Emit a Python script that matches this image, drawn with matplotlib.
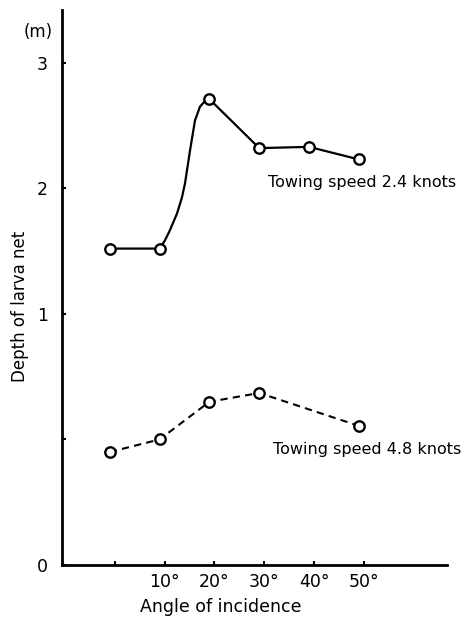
import numpy as np
import matplotlib
matplotlib.use("Agg")
import matplotlib.pyplot as plt

# angles of incidence (deg) and net depth (m)
angles = [0, 10, 20, 30, 40, 50]
depth_24 = [1.52, 1.52, 2.71, 2.32, 2.33, 2.23]
depth_48 = [0.45, 0.50, 0.65, 0.685, None, 0.554]

# hand-drawn curve of the 2.4 knot series
trace_x = [0, 10, 11.0, 12.0, 13.5, 14.5, 15.1, 16.1, 17.1, 18.1, 19.0, 20, 30, 40, 50]
trace_y = [1.52, 1.52, 1.58, 1.66, 1.80, 1.93, 2.04, 2.30, 2.54, 2.65, 2.69, 2.71, 2.32, 2.33, 2.23]

y_ticks = [0, 0.5, 1, 2, 3]
y_labels = ["0", "", "1", "2", "3"]
x_labels = ["", "10°", "20°", "30°", "40°", "50°"]


def fwd(v):
    v = np.asarray(v, dtype=float)
    return np.where(v <= 1, 2 * v, v + 1)


def inv(p):
    p = np.asarray(p, dtype=float)
    return np.where(p <= 2, p / 2, p - 1)


plt.rcParams['font.family'] = ['DejaVu Sans']
fig = plt.figure(figsize=(4.72, 6.18), dpi=100)
ax = fig.add_axes([62 / 472, 1 - 565 / 618, (447 - 62) / 472, (565 - 10) / 618])
ax.set_yscale('function', functions=(fwd, inv))

ax.plot(trace_x, trace_y, color='black', lw=1.6, solid_joinstyle='round')
ax.plot(angles, depth_24, 'o', ms=7.5, mfc='white', mec='black', mew=1.7)

a48 = [a for a, d in zip(angles, depth_48) if d is not None]
d48 = [d for d in depth_48 if d is not None]
ax.plot(a48, d48, color='black', lw=1.5, ls=(0, (3.5, 2.5)),
        marker='o', ms=7.5, mfc='white', mec='black', mew=1.7)

ax.set_xlim(-9.6, 67.7)
ax.set_ylim(0, 3.42)
ax.set_xticks(np.array(angles) + 1.0)
ax.set_xticklabels(x_labels, fontsize=12.5)
ax.set_yticks(y_ticks)
ax.set_yticklabels(y_labels, fontsize=12.5)
ax.minorticks_off()
ax.tick_params(direction='in', length=3, width=1.5, pad=10)
ax.tick_params(axis='x', pad=6)

for s in ['top', 'right']:
    ax.spines[s].set_visible(False)
for s in ['left', 'bottom']:
    ax.spines[s].set_linewidth(2.0)

ax.text(31.7, 2.05, "Towing speed 2.4 knots", fontsize=11.5, va='center')
ax.text(32.7, 0.46, "Towing speed 4.8 knots", fontsize=11.5, va='center')

fig.text(38 / 472, 1 - 32 / 618, "(m)", fontsize=12, ha='center', va='center')
fig.text(20 / 472, 1 - 306 / 618, "Depth of larva net", fontsize=12,
         rotation=90, ha='center', va='center')
fig.text(221 / 472, 1 - 607 / 618, "Angle of incidence", fontsize=12.5,
         ha='center', va='center')

fig.savefig("out.png", dpi=100)
